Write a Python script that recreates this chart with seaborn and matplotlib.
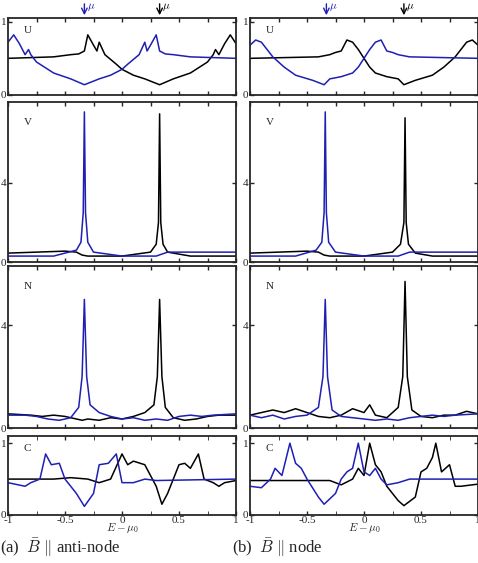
import numpy as np
import matplotlib
matplotlib.use("Agg")
import matplotlib.pyplot as plt
import matplotlib.transforms as mtrans
import seaborn as sns

sns.set_style("ticks")
plt.rcParams['font.family'] = ['Liberation Serif', 'DejaVu Serif']
plt.rcParams['mathtext.fontset'] = 'cm'

BLUE = "#1f1fb4"
BLACK = "black"

# ---- data (x = E - mu0) ----
# left column: B || anti-node
uA_bk_x = [-1, -.6, -.45, -.38, -.33, -.3, -.25, -.22, -.2, -.15, -.05, 0, .1, .2, .33, .45, .6, .75, .8, .82, .85, .9, .95, 1]
uA_bk_y = [.5, .52, .55, .56, .6, .82, .68, .6, .72, .55, .42, .35, .27, .22, .14, .22, .3, .45, .55, .62, .55, .7, .82, .7]
uA_bl_x = [-1, -.95, -.9, -.85, -.82, -.8, -.75, -.6, -.45, -.33, -.2, -.1, 0, .05, .15, .2, .22, .25, .3, .33, .38, .45, .6, 1]
uA_bl_y = [.72, .82, .7, .55, .62, .55, .45, .3, .22, .14, .22, .27, .35, .42, .55, .72, .6, .68, .82, .6, .56, .55, .52, .5]

vA_bk_x = [-1, -.5, -.4, -.35, -.3, 0, .25, .3, .32, .33, .34, .36, .4, .6, 1]
vA_bk_y = [.45, .55, .5, .35, .3, .3, .5, .9, 2.0, 7.5, 2.0, .9, .5, .3, .3]
vA_bl_x = [-1, -.6, -.4, -.36, -.34, -.33, -.32, -.3, -.25, 0, .3, .4, 1]
vA_bl_y = [.3, .3, .6, 1.0, 2.5, 7.6, 2.5, 1.0, .5, .3, .3, .5, .5]

nA_bk_x = [-1, -.8, -.7, -.6, -.5, -.4, -.35, -.3, -.2, -.1, 0, .1, .2, .28, .31, .33, .35, .38, .45, .55, .65, .75, .85, 1]
nA_bk_y = [.55, .5, .45, .5, .45, .35, .3, .35, .3, .4, .35, .45, .6, .9, 2.0, 5.0, 2.0, .8, .4, .3, .35, .45, .5, .5]
nA_bl_x = [-1, -.85, -.75, -.65, -.55, -.45, -.38, -.35, -.33, -.31, -.28, -.2, -.1, 0, .1, .2, .3, .4, .5, .6, .7, .8, 1]
nA_bl_y = [.5, .5, .45, .35, .3, .4, .8, 2.0, 5.0, 2.0, .9, .6, .45, .35, .4, .3, .35, .3, .45, .5, .45, .5, .55]

cA_bk_x = [-1, -.6, -.45, -.3, -.2, -.1, 0, .05, .1, .2, .3, .35, .4, .5, .55, .6, .67, .72, .8, .85, .9, 1]
cA_bk_y = [.5, .5, .52, .5, .45, .5, .85, .7, .75, .7, .4, .15, .3, .7, .72, .65, .85, .5, .45, .4, .45, .48]
cA_bl_x = [-1, -.85, -.8, -.72, -.67, -.62, -.55, -.5, -.4, -.33, -.25, -.2, -.12, -.05, 0, .1, .2, .3, 1]
cA_bl_y = [.45, .4, .45, .5, .85, .7, .72, .5, .3, .12, .3, .7, .72, .85, .45, .45, .5, .48, .5]

# right column: B || node
uB_bk_x = [-1, -.4, -.3, -.25, -.2, -.15, -.1, -.05, .05, .1, .2, .3, .35, .45, .6, .7, .8, .9, .95, 1]
uB_bk_y = [.5, .52, .55, .58, .6, .75, .72, .62, .38, .3, .25, .22, .14, .2, .27, .38, .52, .72, .75, .68]
uB_bl_x = [-1, -.95, -.9, -.8, -.7, -.6, -.45, -.35, -.3, -.2, -.1, -.05, .05, .1, .15, .2, .25, .3, .4, 1]
uB_bl_y = [.68, .75, .72, .52, .38, .27, .2, .14, .22, .25, .3, .38, .62, .72, .75, .6, .58, .55, .52, .5]

vB_bk_x = [-1, -.5, -.4, -.35, -.3, 0, .25, .32, .35, .36, .37, .39, .45, .6, 1]
vB_bk_y = [.45, .55, .5, .35, .3, .3, .5, .9, 2.0, 7.3, 2.0, .9, .45, .3, .3]
vB_bl_x = [-1, -.6, -.42, -.37, -.35, -.34, -.33, -.31, -.25, 0, .3, .4, 1]
vB_bl_y = [.3, .3, .6, 1.0, 2.5, 7.6, 2.5, 1.0, .5, .3, .3, .5, .5]

nB_bk_x = [-1, -.8, -.7, -.6, -.5, -.4, -.3, -.2, -.1, 0, .05, .1, .2, .3, .34, .36, .38, .42, .5, .6, .7, .8, .9, 1]
nB_bk_y = [.5, .7, .6, .75, .6, .45, .4, .5, .75, .6, .9, .5, .4, .8, 2.0, 5.7, 2.0, .7, .45, .4, .5, .5, .65, .55]
nB_bl_x = [-1, -.9, -.8, -.7, -.6, -.5, -.4, -.36, -.34, -.32, -.28, -.2, -.1, 0, .1, .2, .3, .4, .5, .6, .7, .8, 1]
nB_bl_y = [.5, .4, .5, .35, .45, .5, .8, 2.0, 5.0, 2.0, .7, .45, .4, .35, .3, .35, .3, .4, .45, .5, .45, .5, .55]

cB_bk_x = [-1, -.3, -.2, -.1, -.05, 0, .05, .1, .15, .2, .3, .35, .45, .5, .55, .6, .63, .68, .75, .8, .85, 1]
cB_bk_y = [.48, .48, .42, .5, .65, .55, 1.0, .7, .6, .4, .2, .13, .25, .6, .65, .8, 1.0, .6, .7, .4, .4, .43]
cB_bl_x = [-1, -.9, -.82, -.78, -.72, -.65, -.6, -.55, -.5, -.4, -.35, -.25, -.2, -.15, -.1, -.05, 0, .05, .1, .15, .2, .3, .4, 1]
cB_bl_y = [.4, .38, .5, .65, .55, 1.0, .72, .65, .5, .25, .15, .3, .5, .6, .65, 1.0, .6, .55, .65, .5, .42, .45, .5, .5]

mu_left = [-0.33, 0.33]
mu_right = [-0.33, 0.35]

rows = [
    ("U", (0, 1.05), [0, 1], [(uA_bk_x, uA_bk_y, uA_bl_x, uA_bl_y), (uB_bk_x, uB_bk_y, uB_bl_x, uB_bl_y)]),
    ("V", (0, 8.1), [0, 4], [(vA_bk_x, vA_bk_y, vA_bl_x, vA_bl_y), (vB_bk_x, vB_bk_y, vB_bl_x, vB_bl_y)]),
    ("N", (0, 6.3), [0, 4], [(nA_bk_x, nA_bk_y, nA_bl_x, nA_bl_y), (nB_bk_x, nB_bk_y, nB_bl_x, nB_bl_y)]),
    ("C", (0, 1.1), [0, 1], [(cA_bk_x, cA_bk_y, cA_bl_x, cA_bl_y), (cB_bk_x, cB_bk_y, cB_bl_x, cB_bl_y)]),
]

W, H = 478, 563
fig = plt.figure(figsize=(W / 100, H / 100), dpi=100)
col_x = [8, 250]
col_w = 228
row_y = [(18, 95), (102, 262), (266, 428), (436, 515)]

for r, (lab, ylim, yt, data) in enumerate(rows):
    top, bot = row_y[r]
    for c in range(2):
        ax = fig.add_axes([col_x[c] / W, 1 - bot / H, col_w / W, (bot - top) / H])
        bkx, bky, blx, bly = data[c]
        sns.lineplot(x=bkx, y=bky, ax=ax, color=BLACK, lw=1.1, sort=False)
        sns.lineplot(x=blx, y=bly, ax=ax, color=BLUE, lw=1.1, sort=False)
        ax.set_xlim(-1, 1)
        ax.set_ylim(*ylim)
        ax.set_xticks(np.arange(-1, 1.01, 0.25))
        ax.set_yticks(yt)
        ax.tick_params(direction="in", top=True, right=True, length=3, width=1, labelsize=8, pad=1)
        ax.set_yticklabels([str(v) for v in yt])
        for s in ax.spines.values():
            s.set_linewidth(1.3)
        ax.text(0.07, 0.9, lab, transform=ax.transAxes, fontsize=8, va="top")
        if r == 3:
            ax.set_xticks([-1, -.5, 0, .5, 1])
            ax.set_xticks(np.arange(-1, 1.01, 0.25), minor=True)
            ax.tick_params(which="minor", direction="in", top=True, length=3)
            ax.set_xticklabels(["-1", "-0.5", "0", "0.5", "1"])
            ax.set_xlabel(r"$E-\mu_0$", fontsize=8, labelpad=-3)
        else:
            ax.set_xticklabels([])
        if r == 0:
            mus = mu_left if c == 0 else mu_right
            tr = mtrans.blended_transform_factory(ax.transData, ax.transAxes)
            for m, col in zip(mus, [BLUE, BLACK]):
                ax.annotate("", xy=(m, 1.0), xytext=(m, 1.22), xycoords=tr, textcoords=tr,
                            arrowprops=dict(arrowstyle="->", color=col, lw=1), annotation_clip=False)
                ax.text(m + 0.02, 1.06, r"$\mu$", transform=tr, color=col, fontsize=8,
                        ha="left", va="bottom")

fig.text(0 / W, 1 - 553 / H, r"(a)  $\bar{B}$ $\|$ anti-node", fontsize=12)
fig.text(232 / W, 1 - 553 / H, r"(b)  $\bar{B}$ $\|$ node", fontsize=12)

fig.savefig("out.png", dpi=100)
